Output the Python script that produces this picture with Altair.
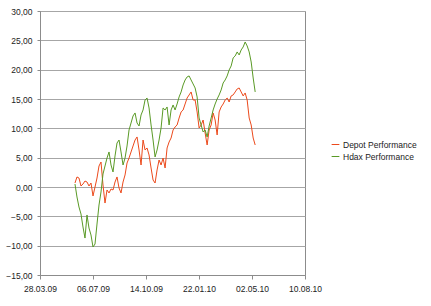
import altair as alt
import pandas as pd

depot = [0.68, 1.71, 1.53, 0.17, 0.51, 1.02, 0.85, 0.17, 0.68, -1.53,
         0.00, 1.53, 3.58, 4.26, 0.34, -2.73, -0.51, -1.02, -0.34, -0.51,
         0.85, 1.71, -0.17, -1.02, 0.85, 2.05, 4.09, 4.94, 5.97, 6.99,
         8.01, 8.53, 6.31, 3.75, 8.01, 6.31, 6.65, 5.46, 3.24, 1.19,
         0.68, 2.90, 4.60, 3.75, 4.94, 3.24, 6.65, 7.67, 8.35, 9.72,
         10.23, 10.57, 11.76, 12.79, 13.13, 14.15, 15.17, 15.69, 16.20, 14.83,
         14.83, 12.79, 10.06, 10.57, 11.42, 9.21, 7.16, 9.72, 10.57, 12.62,
         11.42, 8.87, 12.79, 13.64, 14.15, 14.83, 15.17, 14.49, 15.52, 15.69,
         16.20, 16.71, 16.88, 16.20, 15.52, 16.03, 14.83, 11.76, 10.57, 8.35,
         7.16]

hdax = [0.51, -1.70, -3.41, -4.60, -6.82, -8.70, -4.77, -6.99, -8.18, -10.23,
        -9.72, -6.31, -3.07, -0.85, 2.22, 3.58, 4.94, 5.97, 3.75, 2.56,
        5.29, 7.50, 8.01, 5.97, 3.75, 4.94, 6.99, 9.72, 10.91, 12.11,
        12.62, 10.91, 10.40, 12.28, 13.13, 14.83, 15.17, 13.47, 10.57, 8.01,
        5.12, 6.31, 8.01, 10.06, 13.47, 13.13, 13.64, 10.57, 13.13, 13.98,
        13.13, 14.15, 15.35, 16.20, 17.39, 18.24, 18.76, 18.93, 18.24, 17.56,
        16.88, 15.35, 11.76, 10.57, 9.38, 9.72, 8.53, 10.40, 11.76, 13.13,
        14.15, 15.00, 15.69, 16.54, 17.73, 18.24, 18.93, 19.95, 20.63, 22.00,
        22.34, 23.02, 22.51, 23.36, 23.87, 24.72, 24.04, 23.02, 21.31, 18.58,
        16.20]

series_names = ["Depot Performance", "Hdax Performance"]
series_colors = ["#EC4A1C", "#5A9A26"]
x_ticks = ["2009-03-28", "2009-07-06", "2009-10-14", "2010-01-22", "2010-05-02", "2010-08-10"]
y_ticks = [-15, -10, -5, 0, 5, 10, 15, 20, 25, 30]

dates = pd.date_range("2009-06-02", "2010-05-08", periods=len(depot))
df = pd.concat([
    pd.DataFrame({"date": dates, "value": depot, "series": series_names[0]}),
    pd.DataFrame({"date": dates, "value": hdax, "series": series_names[1]}),
])

font = "Liberation Sans"
tick_dates = [alt.DateTime(year=int(d[:4]), month=int(d[5:7]), date=int(d[8:])) for d in x_ticks]

chart = alt.Chart(df).mark_line(strokeWidth=1, interpolate="linear").encode(
    x=alt.X("date:T",
            scale=alt.Scale(domain=[tick_dates[0], tick_dates[-1]]),
            axis=alt.Axis(values=tick_dates, format="%d.%m.%y", title=None, grid=False,
                          domainColor="#8C8C8C", tickColor="#8C8C8C", tickSize=4,
                          labelFont=font, labelFontSize=8.5, labelColor="#222222",
                          labelPadding=5, labelFlush=False, labelOverlap=False)),
    y=alt.Y("value:Q",
            scale=alt.Scale(domain=[-15, 30], nice=False, zero=False),
            axis=alt.Axis(values=y_ticks, title=None, grid=True, gridColor="#A6A6A6",
                          domainColor="#8C8C8C", tickColor="#8C8C8C", tickSize=3,
                          labelExpr="replace(format(datum.value, '.2f'), '.', ',')",
                          labelFont=font, labelFontSize=8.5, labelColor="#222222",
                          labelPadding=5)),
    color=alt.Color("series:N",
                    scale=alt.Scale(domain=series_names, range=series_colors),
                    legend=alt.Legend(title=None, orient="none", legendX=291, legendY=129,
                                      symbolType="stroke", symbolSize=60, symbolStrokeWidth=1,
                                      labelFont=font, labelFontSize=8.5, labelColor="#222222",
                                      rowPadding=3, labelOffset=3)),
).properties(
    width=265, height=264,
    autosize=alt.AutoSizeParams(type="none"),
    padding={"left": 40, "top": 11, "right": 126, "bottom": 31},
).configure_view(stroke="#8C8C8C", strokeWidth=1)

chart.save("out.html", embed_options={"renderer": "svg", "actions": False})
